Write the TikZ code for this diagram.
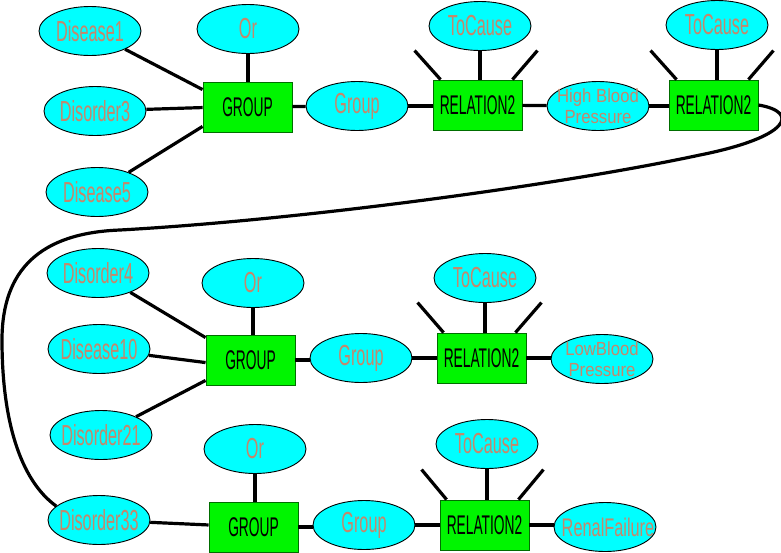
\documentclass[tikz,border=0pt]{standalone}
\usepackage{fontspec}
\usetikzlibrary{shapes.geometric}
\newfontfamily\narA[FakeStretch=0.56]{Liberation Sans}
\newfontfamily\narB[FakeStretch=0.51]{Liberation Sans}
\newfontfamily\narC[FakeStretch=0.88]{Liberation Sans}
\newfontfamily\narD[FakeStretch=0.64]{Liberation Sans}
\definecolor{cyanfill}{RGB}{0,255,255}
\definecolor{greenfill}{RGB}{0,245,0}
\definecolor{greenline}{RGB}{0,110,0}
\definecolor{salmontext}{RGB}{196,136,108}
\tikzset{
  ell/.style={ellipse, draw=black, line width=0.9pt, fill=cyanfill, minimum width=102pt, minimum height=49pt, inner xsep=-30pt, inner ysep=-15pt, text=salmontext, font=\narA\fontsize{29}{29}\selectfont},
  ellsmall/.style={ell, font=\narC\fontsize{19}{21}\selectfont, align=center},
  ellmid/.style={ell, font=\narD\fontsize{25.5}{25.5}\selectfont},
  gbox/.style={rectangle, draw=greenline, line width=0.9pt, fill=greenfill, minimum width=89pt, minimum height=50pt, inner sep=0pt, text=black, font=\narB\fontsize{27}{27}\selectfont},
  conn/.style={line width=3.2pt, black},
  stub/.style={line width=3.2pt, black},
}
\begin{document}
\begin{tikzpicture}[x=1pt,y=-1pt]
\useasboundingbox (0,0) rectangle (781,552);
% Row 1
\node[ell] (D1) at (90,31) {Disease1};
\node[ell] (O1) at (248,29) {Or};
\node[ell] (D3) at (95,111) {Disorder3};
\node[ell] (D5) at (97,192) {Disease5};
\node[gbox] (G1) at (247.5,107) {GROUP};
\node[ell] (Gp1) at (357,106) {Group};
\node[gbox] (R1) at (477.5,105) {RELATION2};
\node[ell] (T1) at (480,26) {ToCause};
\node[ellsmall] (HB) at (598,106) {High Blood\\Pressure};
\node[gbox] (R2) at (713.5,105) {RELATION2};
\node[ell] (T2) at (717,25) {ToCause};
% Row 2
\node[ell] (D4) at (98,273) {Disorder4};
\node[ell] (O2) at (253,283) {Or};
\node[ell] (D10) at (99,349) {Disease10};
\node[ell] (D21) at (101,435) {Disorder21};
\node[gbox] (G2) at (250.5,360) {GROUP};
\node[ell] (Gp2) at (361,358) {Group};
\node[gbox] (R3) at (481.5,358) {RELATION2};
\node[ell] (T3) at (485,278) {ToCause};
\node[ellsmall] (LB) at (602,359) {LowBlood\\Pressure};
% Row 3
\node[ell] (O3) at (255,449) {Or};
\node[ell] (D33) at (99,520) {Disorder33};
\node[gbox] (G3) at (253.5,527) {GROUP};
\node[ell] (Gp3) at (364,525) {Group};
\node[gbox] (R4) at (484.5,525) {RELATION2};
\node[ell] (T4) at (487,444) {ToCause};
\node[ellmid] (RF) at (605,527) {\hspace*{6pt}RenalFailure};

% Row 1 connectors
\draw[conn] (D1) -- ([yshift=-8pt]G1.north west);
\draw[conn] (D3) -- ([yshift=-26pt]G1.north west);
\draw[conn] (D5) -- ([yshift=6pt]G1.south west);
\draw[conn] (O1.south) -- (O1.south |- G1.north);
\draw[conn] (G1) -- (Gp1);
\draw[conn] (Gp1) -- (Gp1 -| R1.west);
\draw[conn] (R1) -- (HB);
\draw[conn] (HB) -- (HB -| R2.west);
\draw[conn] (T1.south) -- (T1.south |- R1.north);
\draw[stub] ([xshift=8pt]R1.north west) -- ++(-26pt,29pt);
\draw[stub] ([xshift=-10pt]R1.north east) -- ++(25pt,29pt);
\draw[conn] (T2.south) -- (T2.south |- R2.north);
\draw[stub] ([xshift=8pt]R2.north west) -- ++(-26pt,29pt);
\draw[stub] ([xshift=-10pt]R2.north east) -- ++(25pt,29pt);
% long curve
\draw[conn] (R2.east) .. controls (800,112) and (790,137) .. (700,155)
  .. controls (560,185) and (300,220) .. (120,230)
  .. controls (40,233) and (2,270) .. (2,340)
  .. controls (2,420) and (20,480) .. (D33.162);
% Row 2 connectors
\draw[conn] (D4) -- ([yshift=-3pt]G2.north west);
\draw[conn] (D10) -- ([yshift=-28pt]G2.north west);
\draw[conn] (D21) -- ([yshift=5pt]G2.south west);
\draw[conn] (O2.south) -- (O2.south |- G2.north);
\draw[conn] (G2) -- (G2 -| Gp2.west);
\draw[conn] (Gp2) -- (Gp2 -| R3.west);
\draw[conn] (R3) -- (R3 -| LB.west);
\draw[conn] (T3.south) -- (T3.south |- R3.north);
\draw[stub] ([xshift=7pt]R3.north west) -- ++(-26pt,30pt);
\draw[stub] ([xshift=-11pt]R3.north east) -- ++(26pt,30pt);
% Row 3 connectors
\draw[conn] (D33) -- (G3);
\draw[conn] (O3.south) -- (O3.south |- G3.north);
\draw[conn] (G3) -- (G3 -| Gp3.west);
\draw[conn] (Gp3) -- (Gp3 -| R4.west);
\draw[conn] (R4) -- (R4 -| RF.west);
\draw[conn] (T4.south) -- (T4.south |- R4.north);
\draw[stub] ([xshift=7pt]R4.north west) -- ++(-25pt,30pt);
\draw[stub] ([xshift=-11pt]R4.north east) -- ++(25pt,30pt);
\end{tikzpicture}
\end{document}
